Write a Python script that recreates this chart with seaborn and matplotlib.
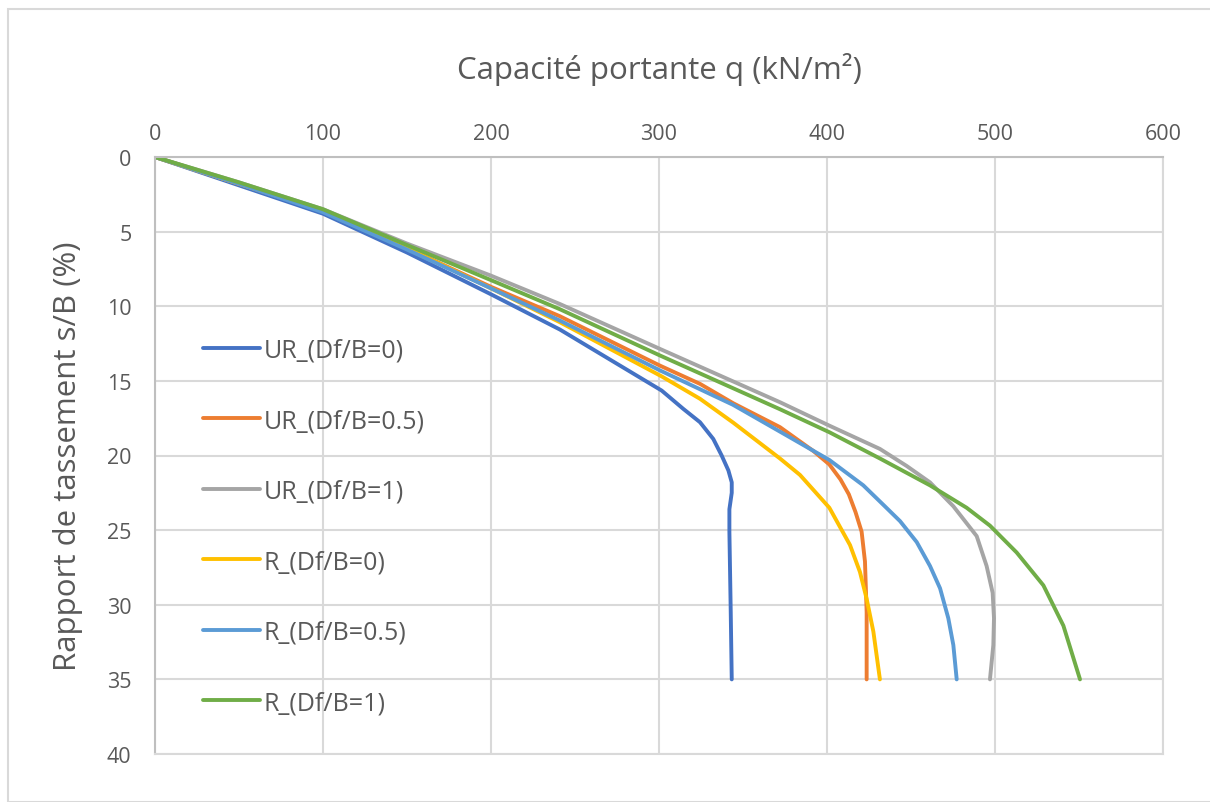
import matplotlib
matplotlib.use("Agg")
import matplotlib.pyplot as plt
import pandas as pd
import seaborn as sns
from matplotlib.patches import Rectangle

# Courbes charge-tassement
ur0_q = [0, 50, 100, 150, 200, 241, 301.6, 314.5, 324.4, 332.3, 337.3, 341.3, 343.3, 343.3, 341.9, 341.9, 342.7, 343.3]
ur0_s = [0, 1.9, 3.8, 6.4, 9.2, 11.56, 15.65, 16.88, 17.77, 18.89, 20.0, 21.0, 21.8, 22.5, 23.6, 25.1, 30.5, 35]

ur05_q = [0, 50, 100, 150, 200, 241, 300.6, 324.4, 344.2, 372, 391.9, 401.4, 408, 413, 417, 420.6, 422.6, 423.6, 423.6]
ur05_s = [0, 1.8, 3.6, 6.1, 8.7, 10.67, 13.98, 15.2, 16.5, 18.1, 19.7, 20.6, 21.6, 22.6, 23.8, 25.1, 27.1, 30.5, 35]

ur1_q = [0, 50, 100, 150, 200, 241, 300.6, 372, 401.4, 431.5, 447.4, 461.3, 475.2, 489.1, 495.0, 498.6, 499.4, 499.0, 497.0]
ur1_s = [0, 1.7, 3.5, 5.8, 7.95, 9.85, 12.86, 16.43, 18.0, 19.56, 20.7, 21.8, 23.4, 25.4, 27.4, 29.2, 30.9, 32.7, 35]

r0_q = [0, 50, 100, 150, 200, 241, 301.6, 324.4, 344.2, 372, 383.9, 401.4, 413.7, 419.6, 423.6, 427.6, 431.5]
r0_s = [0, 1.8, 3.6, 6.1, 8.8, 11.07, 14.7, 16.2, 17.8, 20.2, 21.3, 23.5, 26.0, 27.8, 29.6, 31.8, 35]

r05_q = [0, 50, 100, 150, 200, 241, 300.6, 344, 372, 401.4, 421.6, 433.5, 443.5, 453.4, 461.3, 467.3, 472.2, 475.2, 477.2]
r05_s = [0, 1.8, 3.7, 6.2, 8.8, 10.96, 14.3, 16.6, 18.4, 20.3, 22.0, 23.3, 24.4, 25.8, 27.4, 28.9, 30.9, 32.7, 35]

r1_q = [0, 50, 100, 150, 200, 241, 300.6, 372, 401.4, 431.5, 461.3, 483.1, 497, 512.9, 528.8, 540.7, 550.6]
r1_s = [0, 1.7, 3.5, 5.9, 8.25, 10.2, 13.3, 16.9, 18.44, 20.2, 22.0, 23.5, 24.7, 26.5, 28.7, 31.4, 35]

labels = ["UR_(Df/B=0)", "UR_(Df/B=0.5)", "UR_(Df/B=1)",
          "R_(Df/B=0)", "R_(Df/B=0.5)", "R_(Df/B=1)"]
colors = ["#4472C4", "#ED7D31", "#A5A5A5", "#FFC000", "#5B9BD5", "#70AD47"]

series = [(ur0_q, ur0_s), (ur05_q, ur05_s), (ur1_q, ur1_s),
          (r0_q, r0_s), (r05_q, r05_s), (r1_q, r1_s)]
frames = []
for lab, (q, s) in zip(labels, series):
    frames.append(pd.DataFrame({"q": q, "s": s, "serie": lab}))
df = pd.concat(frames, ignore_index=True)

sns.set_style("white")
plt.rcParams["font.family"] = ["Open Sans", "DejaVu Sans"]

fig = plt.figure(figsize=(12.1, 8.03), dpi=100)
ax = fig.add_axes([155 / 1210, 1 - 755 / 803, (1163 - 155) / 1210, (755 - 158) / 803])

sns.lineplot(data=df, x="q", y="s", hue="serie", hue_order=labels,
             palette=dict(zip(labels, colors)), sort=False, estimator=None,
             linewidth=2.8, ax=ax)
for ln in ax.get_lines():
    ln.set_solid_joinstyle("round")

ax.set_xlim(0, 600)
ax.set_ylim(40, 0)
ax.set_xticks(range(0, 601, 100))
ax.set_yticks(range(0, 41, 5))
ax.xaxis.tick_top()
ax.xaxis.set_label_position("top")
ax.tick_params(axis="both", length=0, labelsize=15.5, labelcolor="#595959")
ax.tick_params(axis="x", pad=9)
ax.tick_params(axis="y", pad=17)
ax.grid(True, color="#D9D9D9", linewidth=1.5)
for sp in ax.spines.values():
    sp.set_color("#D9D9D9")
    sp.set_linewidth(1.5)
ax.spines["top"].set_color("#BFBFBF")
ax.spines["left"].set_color("#BFBFBF")

ax.set_xlabel("Capacité portante q (kN/m²)", fontsize=22.5, color="#595959", labelpad=33)
ax.set_ylabel("Rapport de tassement s/B (%)", fontsize=22.5, color="#595959", labelpad=17)

leg = ax.legend(loc="upper left", bbox_to_anchor=(0.025, 0.735), frameon=False,
                fontsize=18, labelspacing=1.82, handlelength=2.3, handletextpad=0.15)
for t in leg.get_texts():
    t.set_color("#595959")

fig.patches.append(Rectangle((8 / 1210, 0), 1.2, 1 - 10 / 803, transform=fig.transFigure,
                             fill=False, edgecolor="#D9D9D9", linewidth=1.5))

fig.savefig("out.png", dpi=100)
